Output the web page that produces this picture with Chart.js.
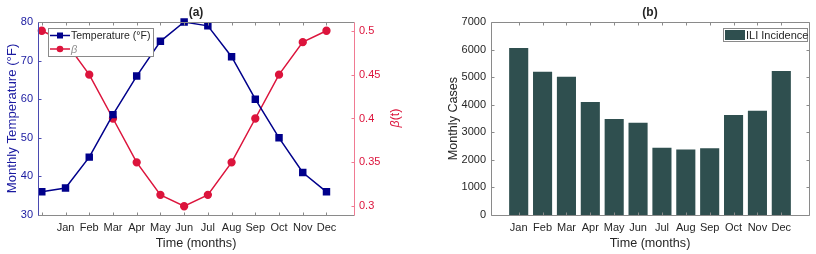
<!DOCTYPE html>
<html>
<head>
<meta charset="utf-8">
<script src="https://cdn.jsdelivr.net/npm/chart.js@4"></script>
<style>
  body { margin: 0; background: #fff; }
  .wrap { position: absolute; top: 0; width: 408px; height: 254px; }
</style>
</head>
<body>
<div class="wrap" style="left:0"><canvas id="tempChart" width="408" height="254"></canvas></div>
<div class="wrap" style="left:408px"><canvas id="iliChart" width="408" height="254"></canvas></div>
<script>
// x positions 0..12, first point has no label
const monthLabels = ['', 'Jan', 'Feb', 'Mar', 'Apr', 'May', 'Jun', 'Jul', 'Aug', 'Sep', 'Oct', 'Nov', 'Dec'];
const temperature = [36, 37, 45, 56, 66, 75, 80, 79, 71, 60, 50, 41, 36];
const beta = [0.5, 0.487, 0.45, 0.4, 0.35, 0.313, 0.3, 0.313, 0.35, 0.4, 0.45, 0.487, 0.5];
// ILI incidence, Jan..Dec at x = 1..12
const iliCases = [6060, 5200, 5010, 4100, 3480, 3350, 2440, 2380, 2420, 3630, 3780, 5220];
const tempTicks = [30, 40, 50, 60, 70, 80];
const betaTicks = [0.3, 0.35, 0.4, 0.45, 0.5];
const caseTicks = [0, 1000, 2000, 3000, 4000, 5000, 6000, 7000];

const TEXT = '#262626';
const BOX = '#8a8a8a';
const BLUE = '#00008B';
const RED = '#DC143C';
const FONT = 'Liberation Sans, Arial, sans-serif';

Chart.defaults.font.family = FONT;
Chart.defaults.animation = false;

function fixTicks(values) {
    return (scale) => { scale.ticks = values.map(v => ({ value: v })); };
}

// MATLAB style box with inward ticks + panel title
function boxPlugin(title, colors) {
    return {
        id: 'box',
        afterDraw(chart) {
            const { ctx, chartArea: a, scales } = chart;
            ctx.save();
            ctx.lineWidth = 1;
            const line = (x1, y1, x2, y2, c) => {
                ctx.strokeStyle = c;
                ctx.beginPath();
                ctx.moveTo(Math.round(x1) + 0.5, Math.round(y1) + 0.5);
                ctx.lineTo(Math.round(x2) + 0.5, Math.round(y2) + 0.5);
                ctx.stroke();
            };
            const L = 3;
            scales.x.ticks.forEach(t => {
                const px = scales.x.getPixelForValue(t.value);
                line(px, a.bottom, px, a.bottom - L, BOX);
                line(px, a.top, px, a.top + L, BOX);
            });
            scales.y.ticks.forEach(t => {
                const py = scales.y.getPixelForValue(t.value);
                line(a.left, py, a.left + L, py, colors.left);
                if (!scales.y1) line(a.right, py, a.right - L, py, colors.right);
            });
            if (scales.y1) {
                scales.y1.ticks.forEach(t => {
                    const py = scales.y1.getPixelForValue(t.value);
                    line(a.right, py, a.right - L, py, colors.right);
                });
            }
            line(a.left, a.top, a.right, a.top, BOX);
            line(a.left, a.bottom, a.right, a.bottom, BOX);
            line(a.left, a.top, a.left, a.bottom, colors.left);
            line(a.right, a.top, a.right, a.bottom, colors.right);

            ctx.fillStyle = TEXT;
            ctx.font = 'bold 12px ' + FONT;
            ctx.textAlign = 'center';
            ctx.textBaseline = 'middle';
            ctx.fillText(title, (a.left + a.right) / 2, 13);
            ctx.restore();
        }
    };
}

// legend + right axis label for panel (a)
const tempExtras = {
    id: 'tempExtras',
    afterDraw(chart) {
        const { ctx, chartArea: a } = chart;
        ctx.save();
        const bx = a.left + 10, by = a.top + 6, bw = 105, bh = 28;
        ctx.fillStyle = '#fff';
        ctx.fillRect(bx, by, bw, bh);
        ctx.strokeStyle = BOX;
        ctx.lineWidth = 1;
        ctx.strokeRect(bx + 0.5, by + 0.5, bw, bh);

        const rows = [
            { y: by + 7.5, color: BLUE, marker: 'rect', text: 'Temperature (°F)', font: '10.5px ' + FONT, tc: TEXT },
            { y: by + 21, color: RED, marker: 'circle', text: 'β', font: 'italic 11px ' + FONT, tc: '#909090' }
        ];
        rows.forEach(r => {
            ctx.strokeStyle = r.color;
            ctx.lineWidth = 1.5;
            ctx.beginPath();
            ctx.moveTo(bx + 2, r.y);
            ctx.lineTo(bx + 22, r.y);
            ctx.stroke();
            ctx.fillStyle = r.color;
            if (r.marker === 'rect') ctx.fillRect(bx + 9, r.y - 3, 6, 6);
            else { ctx.beginPath(); ctx.arc(bx + 12, r.y, 3.3, 0, Math.PI * 2); ctx.fill(); }
            ctx.fillStyle = r.tc;
            ctx.font = r.font;
            ctx.textAlign = 'left';
            ctx.textBaseline = 'middle';
            ctx.fillText(r.text, bx + 23, r.y + 0.5);
        });

        // β(t) label, reading bottom to top
        ctx.translate(396, 118);
        ctx.rotate(-Math.PI / 2);
        ctx.fillStyle = RED;
        ctx.textBaseline = 'middle';
        ctx.font = 'italic 12.5px ' + FONT;
        const w1 = ctx.measureText('β').width;
        ctx.font = '12.5px ' + FONT;
        const w2 = ctx.measureText('(t)').width;
        let x0 = -(w1 + w2) / 2;
        ctx.font = 'italic 12.5px ' + FONT;
        ctx.textAlign = 'left';
        ctx.fillText('β', x0, 0);
        ctx.font = '12.5px ' + FONT;
        ctx.fillText('(t)', x0 + w1, 0);
        ctx.restore();
    }
};

const iliLegend = {
    id: 'iliLegend',
    afterDraw(chart) {
        const { ctx, chartArea: a } = chart;
        ctx.save();
        const bw = 84, bh = 13;
        const bx = a.right - 2 - bw, by = a.top + 6;
        ctx.fillStyle = '#fff';
        ctx.fillRect(bx, by, bw, bh);
        ctx.strokeStyle = BOX;
        ctx.lineWidth = 1;
        ctx.strokeRect(bx + 0.5, by + 0.5, bw, bh);
        ctx.fillStyle = '#2F4F4F';
        ctx.fillRect(bx + 2, by + 2, 20, 10);
        ctx.fillStyle = TEXT;
        ctx.font = '11px ' + FONT;
        ctx.textAlign = 'left';
        ctx.textBaseline = 'middle';
        ctx.fillText('ILI Incidence', bx + 23, by + 7.5);
        ctx.restore();
    }
};

const tickFont = { size: 11 };
const titleFont = { size: 12.6 };
const noGrid = { display: false, drawTicks: false };

new Chart(document.getElementById('tempChart'), {
    type: 'line',
    data: {
        datasets: [
            {
                label: 'Temperature (°F)',
                data: temperature.map((v, i) => ({ x: i, y: v })),
                yAxisID: 'y',
                borderColor: BLUE, backgroundColor: BLUE,
                borderWidth: 1.5, pointStyle: 'rect', pointRadius: 4.2,
                tension: 0, clip: false
            },
            {
                label: 'β',
                data: beta.map((v, i) => ({ x: i, y: v })),
                yAxisID: 'y1',
                borderColor: RED, backgroundColor: RED,
                borderWidth: 1.5, pointStyle: 'circle', pointRadius: 3.4,
                tension: 0, clip: false
            }
        ]
    },
    options: {
        responsive: false,
        layout: { padding: { top: 22, left: 0, right: 0, bottom: 0 } },
        plugins: { legend: { display: false }, tooltip: { enabled: false } },
        scales: {
            x: {
                type: 'linear', min: -0.16, max: 13.16,
                afterBuildTicks: fixTicks(monthLabels.map((m, i) => i)),
                afterFit: (s) => { s.height = 39; },
                grid: noGrid, border: { display: false },
                ticks: { font: tickFont, color: TEXT, padding: 6, maxRotation: 0, autoSkip: false,
                    callback: (v) => monthLabels[v] },
                title: { display: true, text: 'Time (months)', font: titleFont, color: TEXT, padding: { top: 0, bottom: 3 } }
            },
            y: {
                position: 'left', min: 30, max: 80,
                afterBuildTicks: fixTicks(tempTicks),
                afterFit: (s) => { s.width = 38; },
                grid: noGrid, border: { display: false },
                ticks: { font: tickFont, color: '#1a1aa0', padding: 5, callback: (v) => String(v) },
                title: { display: true, text: 'Monthly Temperature (°F)', font: { size: 13.2 }, color: '#1a1aa0', padding: { top: 4, bottom: 0 } }
            },
            y1: {
                position: 'right', min: 0.29, max: 0.51,
                afterBuildTicks: fixTicks(betaTicks),
                afterFit: (s) => { s.width = 54; },
                grid: noGrid, border: { display: false },
                ticks: { font: tickFont, color: RED, padding: 5, callback: (v) => String(v) }
            }
        }
    },
    plugins: [boxPlugin('(a)', { left: '#4a4ab0', right: '#f07a92' }), tempExtras]
});

new Chart(document.getElementById('iliChart'), {
    type: 'bar',
    data: {
        datasets: [{
            label: 'ILI Incidence',
            data: iliCases.map((v, i) => ({ x: i + 1, y: v })),
            backgroundColor: '#2F4F4F',
            categoryPercentage: 1, barPercentage: 0.8
        }]
    },
    options: {
        responsive: false,
        layout: { padding: { top: 22, left: 33.5, right: 7, bottom: 0 } },
        plugins: { legend: { display: false }, tooltip: { enabled: false } },
        scales: {
            x: {
                type: 'linear', min: -0.16, max: 13.16, offset: false,
                afterBuildTicks: fixTicks(iliCases.map((v, i) => i + 1)),
                afterFit: (s) => { s.height = 39; },
                grid: noGrid, border: { display: false },
                ticks: { font: tickFont, color: TEXT, padding: 6, maxRotation: 0, autoSkip: false,
                    callback: (v) => monthLabels[v] },
                title: { display: true, text: 'Time (months)', font: titleFont, color: TEXT, padding: { top: 0, bottom: 3 } }
            },
            y: {
                min: 0, max: 7000,
                afterBuildTicks: fixTicks(caseTicks),
                afterFit: (s) => { s.width = 49.5; },
                grid: noGrid, border: { display: false },
                ticks: { font: tickFont, color: TEXT, padding: 5, callback: (v) => String(v) },
                title: { display: true, text: 'Monthly Cases', font: titleFont, color: TEXT, padding: { top: 4, bottom: 0 } }
            }
        }
    },
    plugins: [boxPlugin('(b)', { left: BOX, right: BOX }), iliLegend]
});
</script>
</body>
</html>
